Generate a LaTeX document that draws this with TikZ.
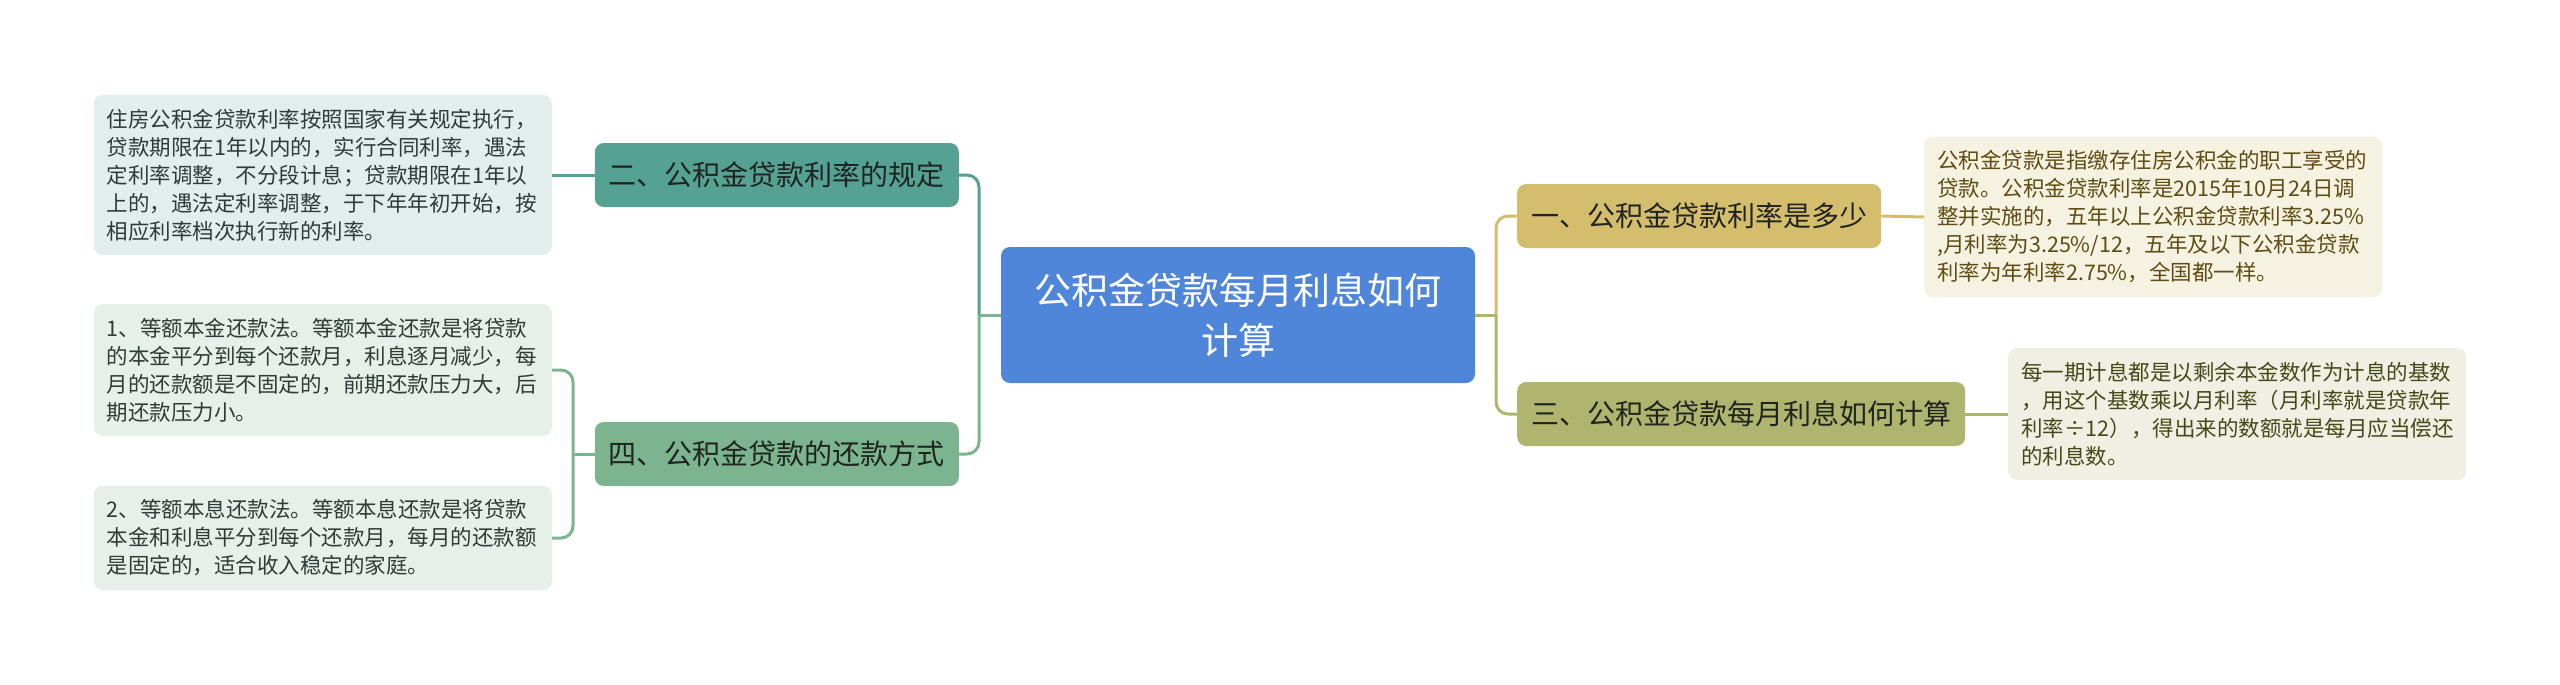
\documentclass[tikz,border=0pt]{standalone}
\usepackage{fontspec}
\setmainfont{Noto Sans CJK SC}

\definecolor{rootblue}{HTML}{4F86DA}
\definecolor{yellowfill}{HTML}{D4BD6C}
\definecolor{yellownote}{HTML}{F5F2E1}
\definecolor{yellowtext}{HTML}{5E4C12}
\definecolor{olivefill}{HTML}{AFB46E}
\definecolor{olivenote}{HTML}{EFF0E3}
\definecolor{olivetext}{HTML}{434A18}
\definecolor{tealfill}{HTML}{55A295}
\definecolor{tealnote}{HTML}{E2EEEC}
\definecolor{greenfill}{HTML}{7BB48E}
\definecolor{greennote}{HTML}{E6F0E9}
\definecolor{lefttext}{HTML}{2F3B38}
\definecolor{topictext}{HTML}{1F2420}

\begin{document}
\begin{tikzpicture}[x=1pt, y=-1pt,
    topic/.style={rounded corners=9pt, minimum height=64pt, inner xsep=14pt,
        font=\fontsize{28pt}{34pt}\selectfont, text=topictext},
    note/.style={rounded corners=9pt, text width=432pt, inner xsep=13pt, inner ysep=14pt,
        align=left, font=\fontsize{21.5pt}{28pt}\selectfont},
    link/.style={line width=3pt, rounded corners=12pt}]
    \useasboundingbox (0,0) rectangle (2560,685);

    % Root
    \node[fill=rootblue, rounded corners=9pt, minimum width=474pt, minimum height=136pt,
        align=center, text=white, font=\fontsize{37pt}{50pt}\selectfont]
        (root) at (1238,315) {公积金贷款每月利息如何\\计算};
    \coordinate (lj) at (979,315);
    \coordinate (rj) at (1496,315);

    % Right branches
    \node[topic, fill=yellowfill, anchor=west] (rate) at (1517,216) {一、公积金贷款利率是多少};
    \node[note, fill=yellownote, text=yellowtext, anchor=west] (ratenote) at (1924,217)
        {公积金贷款是指缴存住房公积金的职工享受的\\贷款。公积金贷款利率是2015年10月24日调\\整并实施的，五年以上公积金贷款利率3.25\%\\,月利率为3.25\%/12，五年及以下公积金贷款\\利率为年利率2.75\%，全国都一样。};

    \node[topic, fill=olivefill, anchor=west] (calc) at (1517,414) {三、公积金贷款每月利息如何计算};
    \node[note, fill=olivenote, text=olivetext, anchor=west] (calcnote) at (2008,414)
        {每一期计息都是以剩余本金数作为计息的基数\\，用这个基数乘以月利率（月利率就是贷款年\\利率÷12），得出来的数额就是每月应当偿还\\的利息数。};

    % Left branches
    \node[topic, fill=tealfill, anchor=east] (rule) at (959,175) {二、公积金贷款利率的规定};
    \node[note, fill=tealnote, text=lefttext, anchor=east] (rulenote) at (552,175)
        {住房公积金贷款利率按照国家有关规定执行，\\贷款期限在1年以内的，实行合同利率，遇法\\定利率调整，不分段计息；贷款期限在1年以\\上的，遇法定利率调整，于下年年初开始，按\\相应利率档次执行新的利率。};

    \node[topic, fill=greenfill, anchor=east] (repay) at (959,454) {四、公积金贷款的还款方式};
    \node[note, fill=greennote, text=lefttext, anchor=east] (repaya) at (552,370)
        {1、等额本金还款法。等额本金还款是将贷款\\的本金平分到每个还款月，利息逐月减少，每\\月的还款额是不固定的，前期还款压力大，后\\期还款压力小。};
    \node[note, fill=greennote, text=lefttext, anchor=east] (repayb) at (552,538)
        {2、等额本息还款法。等额本息还款是将贷款\\本金和利息平分到每个还款月，每月的还款额\\是固定的，适合收入稳定的家庭。};
    \coordinate (rpj) at (573,454);

    % Connectors
    \draw[link, yellowfill] (rj) |- (rate.west);
    \draw[link, olivefill] (rj) |- (calc.west);
    \draw[link, olivefill] (root.east) -- (rj);
    \draw[link, yellowfill] (rate.east) -- (ratenote.west);
    \draw[link, olivefill] (calc.east) -- (calcnote.west);

    \draw[link, tealfill] (lj) |- (rule.east);
    \draw[link, greenfill] (lj) |- (repay.east);
    \draw[link, greenfill] (root.west) -- (lj);
    \draw[link, tealfill] (rule.west) -- (rulenote.east);

    \draw[link, greenfill] (repay.west) -- (rpj);
    \draw[link, greenfill] (rpj) |- (repaya.east);
    \draw[link, greenfill] (rpj) |- (repayb.east);
\end{tikzpicture}
\end{document}
